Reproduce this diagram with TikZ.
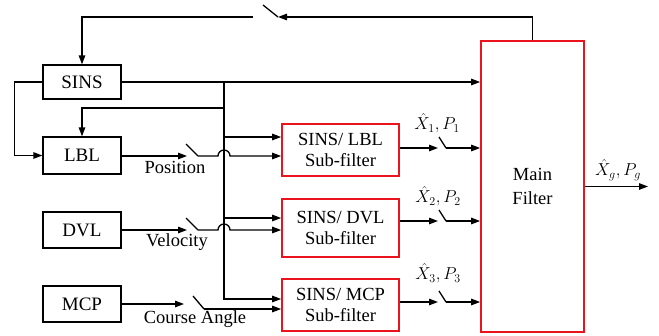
\documentclass[tikz,border=0pt]{standalone}
\usepackage{amsmath}
\usepackage{fontspec}
\setmainfont{Liberation Serif}
\usetikzlibrary{arrows.meta, positioning, calc}
\definecolor{myred}{RGB}{236,20,28}
\definecolor{mydark}{RGB}{0,0,0}
\tikzset{
  block/.style={rectangle, draw=mydark, fill=white,
    minimum width=78pt, minimum height=36pt, inner sep=0pt,
    font=\fontsize{19}{21}\selectfont, line width=1.3pt},
  redblock/.style={rectangle, draw=myred, fill=white,
    minimum width=117pt, minimum height=52pt, inner sep=0pt, align=center,
    font=\fontsize{18.5}{21}\selectfont, line width=1.7pt},
  sigtext/.style={font=\fontsize{18.5}{21}\selectfont, inner sep=0pt},
  arrow/.style={-{Triangle[length=9pt,width=6.5pt]}, line width=1.3pt, color=mydark},
  line/.style={line width=1.3pt, color=mydark}
}

\begin{document}
\begin{tikzpicture}[x=1pt, y=-1pt]
  \useasboundingbox (0,0) rectangle (659,335);

  % Sensors
  \node[block, minimum height=34pt] (sins) at (82,82) {SINS};
  \node[block, minimum height=37pt] (lbl) at (82,155.5) {LBL};
  \node[block] (dvl) at (82,230) {DVL};
  \node[block] (mcp) at (82,304) {MCP};

  % Sub-filters
  \node[redblock] (sublbl) at (340.5,150) {SINS/ LBL\\Sub-filter};
  \node[redblock, minimum height=58pt] (subdvl) at (340.5,228) {SINS/ DVL\\Sub-filter};
  \node[redblock] (submcp) at (340.5,305) {SINS/ MCP\\Sub-filter};

  % Main filter
  \node[redblock, minimum width=103pt, minimum height=291pt, font=\fontsize{18.5}{24}\selectfont] (main) at (532.5,186.5) {Main\\Filter};

  % Feedback to SINS
  \coordinate (fbA) at (263,5);
  \coordinate (fbB) at (278,17);
  \coordinate (fbleft) at (253,17);
  \draw[arrow] (main.north) |- (fbB);
  \draw[line] (fbA) -- (fbB);
  \draw[arrow] (fbleft) -| (sins.north);

  % SINS to main filter and sub-filters
  \draw[arrow] (sins.east) -- (sins.east -| main.west);
  \coordinate (jn) at (224,82);
  \coordinate (br1) at (224,108);
  \coordinate (br2) at (224,137);
  \coordinate (br3) at (224,218);
  \draw[arrow] (jn) |- ([yshift=6pt]submcp.west);
  \draw[arrow] (br1) -| (lbl.north);
  \draw[arrow] (br2) -- (br2 -| sublbl.west);
  \draw[arrow] (br3) -- (br3 -| subdvl.west);
  \draw[arrow] (sins.west) -- ++(-28,0) |- (lbl.west);

  % LBL position
  \coordinate (posin) at (187,156);
  \coordinate (posA) at (186,144);
  \coordinate (posB) at (198,156);
  \coordinate (posjump) at (218,156);
  \draw[arrow] (lbl.east |- posin) -- (posin);
  \draw[line] (posA) -- (posB);
  \draw[arrow] (posB) -- (posjump) arc[start angle=180, end angle=0, radius=6pt] -- (posB -| sublbl.west);
  \node[sigtext] (postext) at (175,167) {Position};

  % DVL velocity
  \coordinate (velin) at (187,230);
  \coordinate (velA) at (186,218);
  \coordinate (velB) at (198,230);
  \coordinate (veljump) at (218,230);
  \draw[arrow] (dvl.east |- velin) -- (velin);
  \draw[line] (velA) -- (velB);
  \draw[arrow] (velB) -- (veljump) arc[start angle=180, end angle=0, radius=6pt] -- (velB -| subdvl.west);
  \node[sigtext] (veltext) at (177,242) {Velocity};

  % MCP course angle
  \coordinate (crsin) at (184,304);
  \coordinate (crsA) at (193,296);
  \coordinate (crsB) at (204,309);
  \draw[arrow] (mcp.east) -- (crsin);
  \draw[line] (crsA) -- (crsB);
  \draw[arrow] (crsB) -- (crsB -| submcp.west);
  \node[sigtext] (crstext) at (195,319) {Course Angle};

  % Sub-filter outputs
  \coordinate (outin1) at (438,148);
  \coordinate (outA1) at (439,137);
  \coordinate (outB1) at (446,148);
  \draw[arrow] (sublbl.east |- outin1) -- (outin1);
  \draw[line] (outA1) -- (outB1);
  \draw[arrow] (outB1) -- (outB1 -| main.west);
  \node[sigtext] (est1) at (437,123) {$\hat{X}_1, P_1$};

  \coordinate (outin2) at (438,221);
  \coordinate (outA2) at (439,210);
  \coordinate (outB2) at (446,221);
  \draw[arrow] (subdvl.east |- outin2) -- (outin2);
  \draw[line] (outA2) -- (outB2);
  \draw[arrow] (outB2) -- (outB2 -| main.west);
  \node[sigtext] (est2) at (438,196) {$\hat{X}_2, P_2$};

  \coordinate (outin3) at (438,302);
  \coordinate (outA3) at (439,291);
  \coordinate (outB3) at (446,302);
  \draw[arrow] (submcp.east |- outin3) -- (outin3);
  \draw[line] (outA3) -- (outB3);
  \draw[arrow] (outB3) -- (outB3 -| main.west);
  \node[sigtext] (est3) at (438,273) {$\hat{X}_3, P_3$};

  % Global estimate
  \coordinate (globout) at (648,186.5);
  \draw[arrow] (main.east) -- (globout);
  \node[sigtext] (estg) at (618,170) {$\hat{X}_g, P_g$};
\end{tikzpicture}
\end{document}
